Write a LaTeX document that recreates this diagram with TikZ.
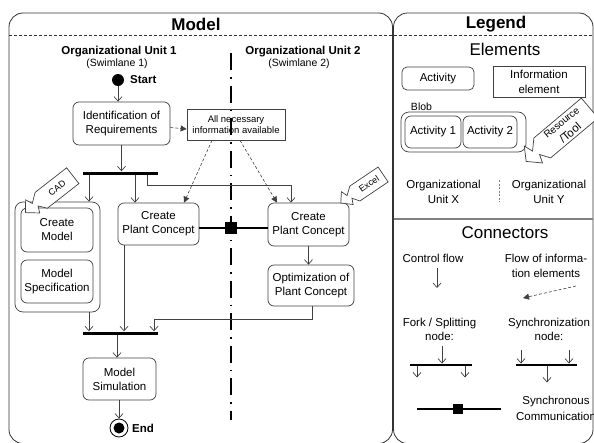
\documentclass[tikz,border=0pt]{standalone}
\usepackage{fontspec}
\setmainfont{Liberation Sans}
\usetikzlibrary{arrows.meta,calc}
\definecolor{ln}{gray}{0.25}
\definecolor{fr}{gray}{0.2}
\tikzset{
  txt/.style={font=\fontsize{11.5}{14}\selectfont, align=center, inner sep=0pt},
  sz/.style 2 args={minimum width=#1pt, minimum height=#2pt},
  act/.style={txt, draw=ln, line width=0.7pt, rounded corners=6pt},
  infobox/.style={txt, draw=ln, line width=0.7pt, font=\fontsize{9.5}{11.5}\selectfont},
  blobbox/.style={draw=ln, line width=0.7pt, rounded corners=8pt, inner sep=0pt},
  barnode/.style={fill=black, inner sep=0pt, minimum height=3pt},
  sqnode/.style={fill=black, inner sep=0pt, minimum size=#1pt},
  flow/.style={draw=ln, line width=0.7pt, -{Straight Barb[length=4.5pt,width=8pt]}},
  iflow/.style={draw=ln, line width=0.6pt, dash pattern=on 3pt off 2pt, -{Triangle[length=6pt,width=6pt]}},
  syncline/.style={draw=black, line width=2.5pt},
  title/.style={font=\bfseries\fontsize{17}{20}\selectfont, inner sep=0pt},
  lane/.style={font=\bfseries\fontsize{11.5}{14}\selectfont, inner sep=0pt},
  sub/.style={font=\fontsize{10.5}{12}\selectfont, inner sep=0pt},
  big/.style={font=\fontsize{17}{20}\selectfont, inner sep=0pt},
}
\newcommand\rescallout[6]{%
 \begin{scope}[shift={#1}, rotate=#2]
  \draw[ln, line width=0.7pt, fill=white, line join=miter]
   (-#3,-#4) -- (#3,-#4) -- (#3,#4) -- (-#3,#4)
   -- ({-#3-0.3*#5}, {0.25*#4}) -- ({-#3-0.45*#5}, {0.9*#4}) -- ({-#3-#5}, 0)
   -- ({-#3-0.6*#5}, {-1.0*#4}) -- ({-#3-0.45*#5}, {-0.3*#4}) -- cycle;
  \node[txt, rotate=#2] at (0,0) {#6};
 \end{scope}}
\begin{document}
\begin{tikzpicture}[x=1pt,y=-1pt]
\useasboundingbox (0,0) rectangle (594,442);
% frames
\draw[fr, line width=0.8pt, rounded corners=14pt] (9,13) rectangle (392.5,443.5);
\draw[fr, line width=0.8pt, rounded corners=14pt] (393.5,13) rectangle (593,443.5);
\draw[fr, line width=0.6pt, dash pattern=on 3pt off 2pt] (9,35) -- (392.5,35);
\draw[fr, line width=0.6pt, dash pattern=on 3pt off 2pt] (393.5,35) -- (593,35);
\draw[gray, line width=1.5pt] (393.5,219) -- (593,219);
\node[title] (tModel) at (196,24) {Model};
\node[title] (tLegend) at (496,24) {Legend};
% lanes
\node[lane] (ou1) at (119,52) {Organizational Unit 1};
\node[sub] (sl1) at (117,64) {(Swimlane 1)};
\node[lane] (ou2) at (303,52) {Organizational Unit 2};
\node[sub] (sl2) at (299,64) {(Swimlane 2)};
\coordinate (laneTop) at (230.5,53);
\coordinate (laneBot) at (230.5,420);
\draw[black, line width=2pt, dash pattern=on 17pt off 7pt on 1.5pt off 7pt] (laneTop) -- (laneBot);
% start
\node[circle, fill=black, inner sep=0pt, minimum size=12pt] (start) at (118,80) {};
\node[lane, anchor=west] (startlbl) at (130,80) {Start};
% activities
\node[act, sz={97}{43}] (ident) at (121.5,123.5) {Identification of\\Requirements};
\node[infobox, sz={98}{31}] (info) at (236,124.5) {All necessary\\information available};
\node[barnode, minimum width=75pt] (fork1) at (120.5,173) {};
\node[blobbox, sz={85}{110}] (blob) at (57.5,257) {};
\node[act, sz={72}{44}] (cm) at (57,230) {Create\\Model};
\node[act, sz={72}{43}] (ms) at (57,281.5) {Model\\Specification};
\node[act, sz={81}{42}] (pc1) at (158.5,224) {Create\\Plant Concept};
\node[act, sz={81}{43}] (pc2) at (308.5,224.5) {Create\\Plant Concept};
\node[act, sz={86}{41}] (opt) at (311,285.5) {Optimization of\\Plant Concept};
\node[barnode, minimum width=75pt] (fork2) at (120.5,333) {};
\node[act, sz={73}{42}] (sim) at (119.5,379) {Model\\Simulation};
\node[circle, draw=black, line width=0.8pt, inner sep=0pt, minimum size=18pt] (end) at (119,428) {};
\node[circle, fill=black, inner sep=0pt, minimum size=11pt] (endin) at (end) {};
\node[lane, anchor=west] (endlbl) at (132,428) {End};
% sync communication
\node[sqnode=12] (sq) at (231,228) {};
\draw[syncline] (pc1.east |- sq) -- (sq) -- (pc2.west |- sq);
% control flow
\draw[flow] (start) -- (start |- ident.north);
\draw[flow] (ident.south) -- (ident.south |- fork1.north);
\draw[flow] ([xshift=-31.5pt]fork1.south) -- ([xshift=-31.5pt]fork1.south |- blob.north);
\draw[flow] ([xshift=14.5pt]fork1.south) -- ([xshift=14.5pt]fork1.south |- pc1.north);
\draw[flow] ([xshift=26.5pt]fork1.south) -- ++(0,11) -| ([xshift=-17.5pt]pc2.north);
\draw[flow] (pc2.south) -- (pc2.south |- opt.north);
\draw[flow] ([xshift=1pt]opt.south) -- ++(0,13) -| ([xshift=33.5pt]fork2.north);
\draw[flow] ([xshift=-31.5pt]fork2.north |- blob.south) -- ([xshift=-31.5pt]fork2.north);
\draw[flow] ([xshift=3.5pt]fork2.north |- pc1.south) -- ([xshift=3.5pt]fork2.north);
\draw[flow] ([xshift=-3.5pt]fork2.south) -- ([xshift=-3.5pt]fork2.south |- sim.north);
\draw[flow] (end |- sim.south) -- (end.north);
% information flow
\draw[iflow] ([yshift=-4pt]ident.east) -- ([yshift=-4.5pt]info.west);
\draw[iflow] ([xshift=-24pt]info.south) -- ([xshift=25.5pt]pc1.north);
\draw[iflow] ([xshift=4pt]info.south) -- ([xshift=-31.5pt]pc2.north);
% resources
\rescallout{(57,188)}{38}{20}{10}{20}{\fontsize{9}{10}\selectfont CAD}
\rescallout{(369,184)}{34}{17}{9}{17}{\fontsize{9}{10}\selectfont Excel}
% legend: elements
\node[big] (tElem) at (505,49) {Elements};
\node[act, sz={72}{23}, rounded corners=5pt] (lact) at (438,78.5) {Activity};
\node[txt, draw=ln, line width=0.7pt, sz={92}{31}, font=\fontsize{11.5}{15}\selectfont] (linfo) at (539,81.5) {Information\\element};
\node[sub] (lbloblbl) at (421.5,107) {Blob};
\node[blobbox, sz={125}{40}] (lblob) at (463.5,132) {};
\node[act, sz={56}{32}] (la1) at (433,132) {Activity 1};
\node[act, sz={54}{32}] (la2) at (490,132) {Activity 2};
\rescallout{(566,128)}{40}{31}{13}{21}{\fontsize{10}{11}\selectfont Resource\\/Tool}
\node[txt, font=\fontsize{11.5}{15}\selectfont] (lunitx) at (443.5,191.5) {Organizational\\Unit X};
\node[txt, font=\fontsize{11.5}{15}\selectfont] (lunity) at (549,191.5) {Organizational\\Unit Y};
\coordinate (ludA) at (499,180);
\coordinate (ludB) at (499,202);
\draw[gray, line width=0.6pt, dash pattern=on 2pt off 1.5pt] (ludA) -- (ludB);
% legend: connectors
\node[big] (tConn) at (505,233) {Connectors};
\node[txt] (lcf) at (433,258) {Control flow};
\coordinate (cf1) at (437,268);
\coordinate (cf2) at (437,288);
\draw[flow] (cf1) -- (cf2);
\node[txt, font=\fontsize{11.5}{15}\selectfont] (lif) at (546,265.5) {Flow of informa-\\tion elements};
\coordinate (if1) at (576,286);
\coordinate (if2) at (523,298);
\draw[iflow] (if1) -- (if2);
\node[txt] (lforklbl) at (439.5,329) {Fork / Splitting\\node:};
\node[txt] (lsynclbl) at (549,329) {Synchronization\\node:};
\node[barnode, minimum width=62pt, minimum height=2.5pt] (lfork) at (441,365) {};
\coordinate (lfin) at (442,346);
\draw[flow] (lfin) -- (lfin |- lfork.north);
\draw[flow] ([xshift=-24pt]lfork.south) -- ++(0,11);
\draw[flow] ([xshift=24pt]lfork.south) -- ++(0,11);
\node[barnode, minimum width=61pt, minimum height=2.5pt] (lsync) at (546.5,365) {};
\coordinate (lsin1) at (521,350);
\coordinate (lsin2) at (569,350);
\draw[flow] (lsin1) -- (lsin1 |- lsync.north);
\draw[flow] (lsin2) -- (lsin2 |- lsync.north);
\draw[flow] ([xshift=0.5pt]lsync.south) -- ++(0,16);
\node[sqnode=10] (lsq) at (458,409) {};
\coordinate (lsc1) at (417,409);
\coordinate (lsc2) at (501,409);
\draw[black, line width=2pt] (lsc1) -- (lsq) -- (lsc2);
\node[txt, font=\fontsize{11.5}{16}\selectfont] (lsynccomm) at (556,408) {Synchronous\\Communication};
\end{tikzpicture}
\end{document}
